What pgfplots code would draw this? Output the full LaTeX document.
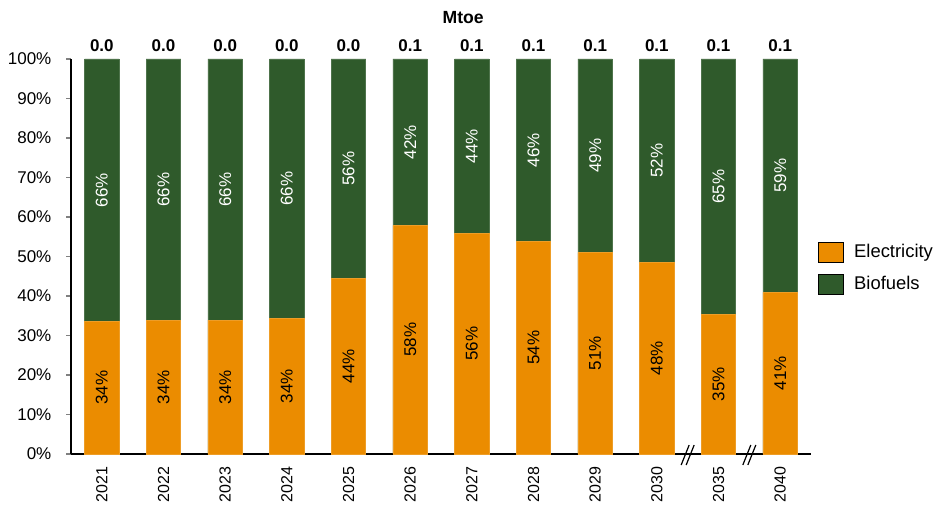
\documentclass[border=0pt]{standalone}
\usepackage{fontspec}
\setmainfont{Liberation Sans}
\usepackage{pgfplots}
\usepackage{pgfplotstable}
\pgfplotsset{compat=1.18}

\definecolor{elec}{HTML}{EB8C00}
\definecolor{bio}{HTML}{2F5A2B}

% x elec ec bc le lb mtoe
\pgfplotstableread{
x  elec  ec     bc     le  lb  mtoe
0  33.6  16.8   66.8   34  66  0.0
1  33.8  16.9   66.9   34  66  0.0
2  33.9  16.95  66.95  34  66  0.0
3  34.3  17.15  67.15  34  66  0.0
4  44.4  22.2   72.2   44  56  0.0
5  57.8  28.9   78.9   58  42  0.1
6  55.8  27.9   77.9   56  44  0.1
7  53.8  26.9   76.9   54  46  0.1
8  51.0  25.5   75.5   51  49  0.1
9  48.5  24.25  74.25  48  52  0.1
10 35.4  17.7   67.7   35  65  0.1
11 40.9  20.45  70.45  41  59  0.1
}\data

\newcommand{\fs}{\fontsize{8.5pt}{10pt}\selectfont}

\begin{document}
\begin{tikzpicture}
\useasboundingbox (-35.5pt,-25pt) rectangle (432.5pt,227pt);
\begin{axis}[
    scale only axis,
    width=370pt, height=197.5pt,
    at={(0,0)}, anchor=south west,
    clip=false,
    axis lines*=left,
    axis line style={line width=0.6pt},
    font=\fs,
    /pgf/number format/assume math mode=true,
    xmin=-0.5, xmax=11.5,
    ymin=0, ymax=100,
    xtick={0,...,11},
    xticklabels={2021,2022,2023,2024,2025,2026,2027,2028,2029,2030,2035,2040},
    xticklabel style={rotate=90, anchor=east, font=\fontsize{8pt}{10pt}\selectfont, xshift=-0.5pt},
    xtick style={draw=none},
    ytick={0,10,...,100},
    yticklabel={\pgfmathprintnumber{\tick}\%},
    yticklabel style={xshift=-4pt},
    tick align=outside,
    major tick length=2.3pt,
    ytick style={line width=0.6pt},
    title={\textbf{Mtoe}},
    title style={at={(axis description cs:0.53,1)}, anchor=center, yshift=14.5pt,
        font=\fontsize{8.8pt}{10pt}\selectfont},
    legend style={draw=none, at={(1,0.47)}, anchor=west, xshift=3.5pt,
        font=\fontsize{9.2pt}{11pt}\selectfont,
        row sep=3.5pt, inner sep=0pt,
        /tikz/every odd column/.append style={column sep=3pt}},
    legend cell align=left,
    legend image code/.code={\fill[#1] (0pt,-5pt) rectangle (12.5pt,5pt);},
]
% biofuels (full bar behind)
\addplot[ybar, bar width=0.56, bar shift=0pt, fill=bio, draw=bio!85!white, line width=0.4pt, forget plot,
    nodes near coords={\pgfmathprintnumber[fixed,precision=1,zerofill]{\pgfplotspointmeta}},
    point meta=\thisrow{mtoe},
    every node near coord/.style={font=\fs\bfseries, anchor=center, yshift=6.5pt, color=black}]
    table[x=x, y expr=100]{\data};
% electricity
\addplot[ybar, bar width=0.56, bar shift=0pt, fill=elec, draw=elec!85!white, line width=0.4pt, forget plot]
    table[x=x, y=elec]{\data};
% labels
\addplot[only marks, mark=*, mark size=0pt, draw=none, fill=none, forget plot,
    nodes near coords={\pgfmathprintnumber{\pgfplotspointmeta}\%},
    point meta=\thisrow{le},
    every node near coord/.style={font=\fs, rotate=90, anchor=center, color=black}]
    table[x=x, y=ec]{\data};
\addplot[only marks, mark=*, mark size=0pt, draw=none, fill=none, forget plot,
    nodes near coords={\pgfmathprintnumber{\pgfplotspointmeta}\%},
    point meta=\thisrow{lb},
    every node near coord/.style={font=\fs, rotate=90, anchor=center, color=white}]
    table[x=x, y=bc]{\data};
\addlegendimage{fill=elec}
\addlegendentry{Electricity}
\addlegendimage{fill=bio}
\addlegendentry{Biofuels}
% axis breaks
\draw[line width=0.6pt] (axis cs:9.5,0) ++(-3.25pt,-5.5pt) -- ++(4pt,10pt);
\draw[line width=0.6pt] (axis cs:9.5,0) ++(-0.75pt,-5.5pt) -- ++(4pt,10pt);
\draw[line width=0.6pt] (axis cs:10.5,0) ++(-3.25pt,-5.5pt) -- ++(4pt,10pt);
\draw[line width=0.6pt] (axis cs:10.5,0) ++(-0.75pt,-5.5pt) -- ++(4pt,10pt);
\end{axis}
\end{tikzpicture}
\end{document}
